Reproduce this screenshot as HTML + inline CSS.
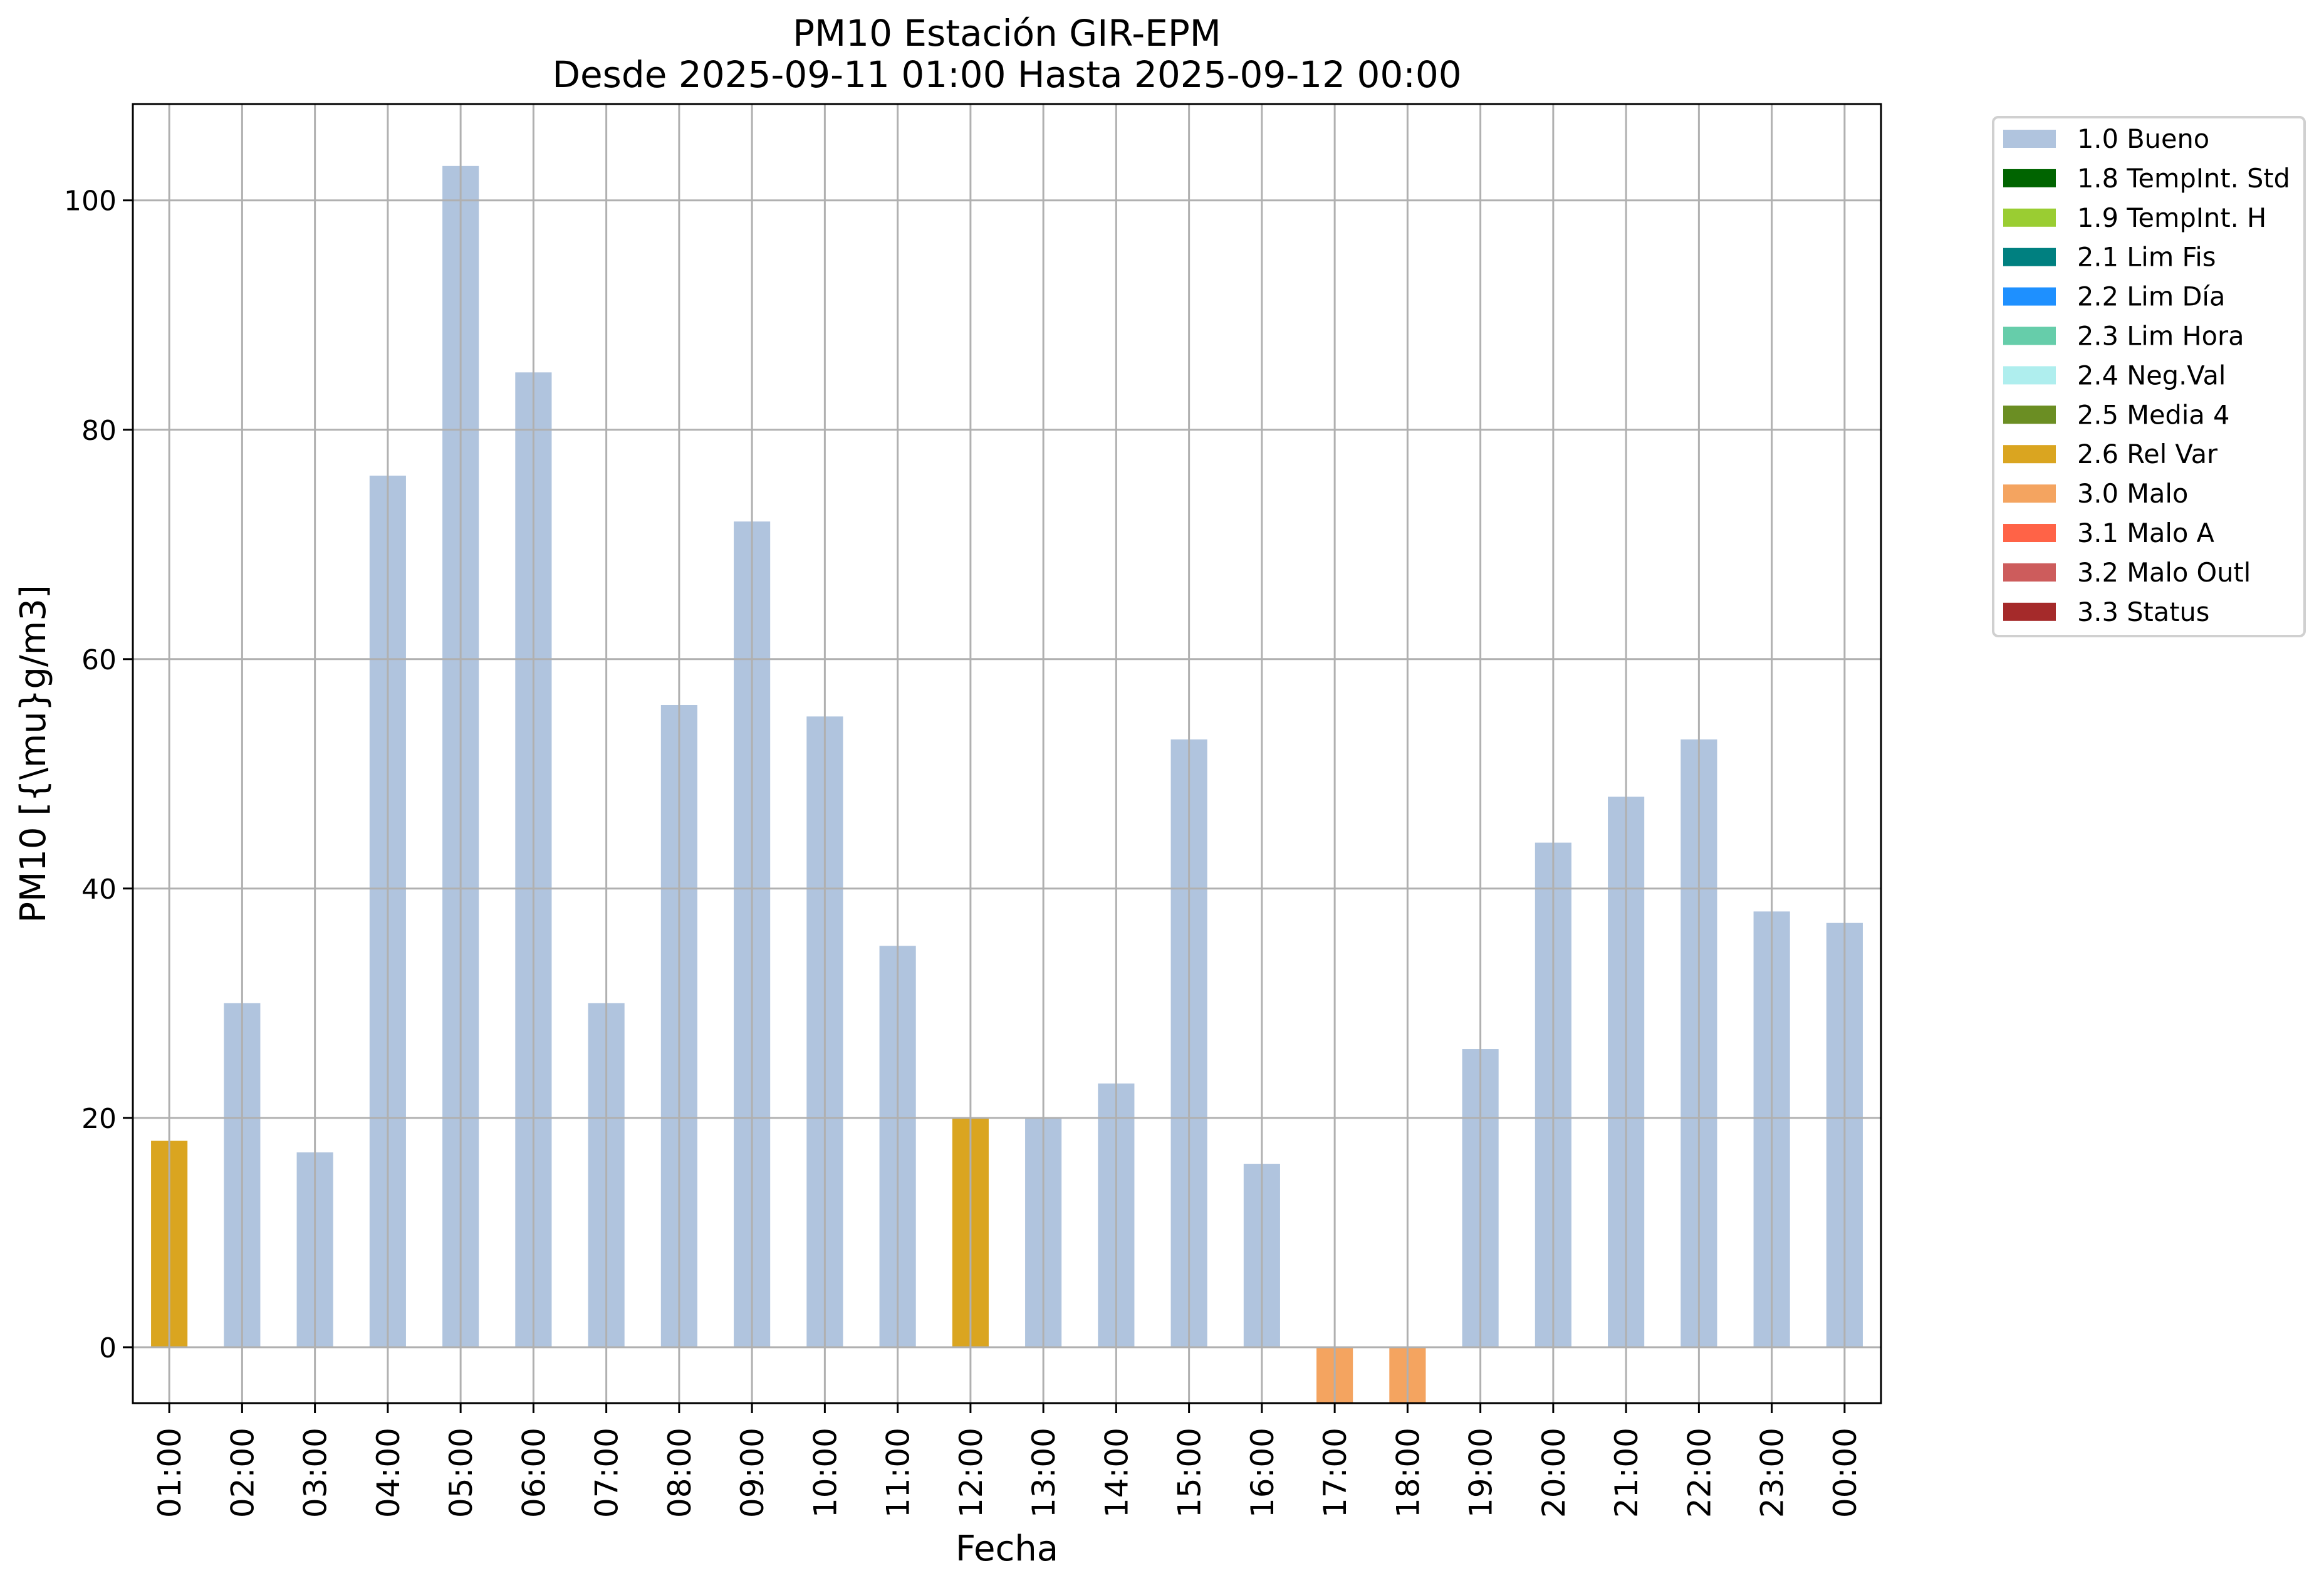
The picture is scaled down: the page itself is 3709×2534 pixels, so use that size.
<!DOCTYPE html>
<html><head><meta charset="utf-8">
<style>
html,body{margin:0;padding:0;background:#fff;}
svg{display:block;font-family:"DejaVu Sans","Liberation Sans",sans-serif;}
</style></head>
<body>
<svg id="chart" width="3709" height="2534" viewBox="0 0 3709 2534" xmlns="http://www.w3.org/2000/svg">
<rect x="0" y="0" width="3709" height="2534" fill="#fff"/>
<text x="1607" y="73" font-size="58" text-anchor="middle">PM10 Estación GIR-EPM</text>
<text x="1607" y="139" font-size="58" text-anchor="middle">Desde 2025-09-11 01:00 Hasta 2025-09-12 00:00</text>
<g id="grid"></g>
<g id="bars"></g>
<g id="axes"></g>
<text x="1607" y="2490" font-size="56" text-anchor="middle">Fecha</text>
<text transform="translate(72,1203) rotate(-90)" font-size="56" text-anchor="middle">PM10 [{\mu}g/m3]</text>
<g id="legend"></g>
</svg>
<script>
const categories = ["01:00","02:00","03:00","04:00","05:00","06:00","07:00","08:00","09:00","10:00","11:00","12:00","13:00","14:00","15:00","16:00","17:00","18:00","19:00","20:00","21:00","22:00","23:00","00:00"];
const values = [18,30,17,76,103,85,30,56,72,55,35,20,20,23,53,16,-5,-5,26,44,48,53,38,37];
const flags = ["2.6","1.0","1.0","1.0","1.0","1.0","1.0","1.0","1.0","1.0","1.0","2.6","1.0","1.0","1.0","1.0","3.0","3.0","1.0","1.0","1.0","1.0","1.0","1.0"];
const yTicks = [0,20,40,60,80,100];
const legendLabels = ["1.0 Bueno","1.8 TempInt. Std","1.9 TempInt. H","2.1 Lim Fis","2.2 Lim Día","2.3 Lim Hora","2.4 Neg.Val","2.5 Media 4","2.6 Rel Var","3.0 Malo","3.1 Malo A","3.2 Malo Outl","3.3 Status"];
const legendCodes = ["1.0","1.8","1.9","2.1","2.2","2.3","2.4","2.5","2.6","3.0","3.1","3.2","3.3"];
const legendColors = ["#b0c4de","#006400","#9acd32","#008080","#1e90ff","#66cdaa","#afeeee","#6b8e23","#daa520","#f4a460","#ff6347","#cd5c5c","#a52a2a"];

const NS="http://www.w3.org/2000/svg";
const L=212,R=3002,T=166,B=2239;
const yMin=-4.87,yMax=108.4;
function ys(v){return B-(v-yMin)/(yMax-yMin)*(B-T);}
const bw=(R-L)/categories.length;
function xs(i){return L+(i+0.5)*bw;}
function mk(tag,attrs,parent){const e=document.createElementNS(NS,tag);for(const k in attrs)e.setAttribute(k,attrs[k]);parent.appendChild(e);return e;}
const grid=document.getElementById('grid'),bars=document.getElementById('bars'),axes=document.getElementById('axes'),legend=document.getElementById('legend');

yTicks.forEach(t=>{
  const tk=mk('line',{x1:L-16,x2:L,y1:ys(t),y2:ys(t),stroke:'#000','stroke-width':3},axes);
  
  
  const tx=mk('text',{x:L-26,y:ys(t)+16,'font-size':44,'text-anchor':'end'},axes);
  tx.textContent=t;
  
  
});
const cmap={};legendCodes.forEach((c,i)=>cmap[c]=legendColors[i]);
const clip=mk('clipPath',{id:'plotclip'},document.getElementById('chart'));
mk('rect',{x:L,y:T,width:R-L,height:B-T},clip);
bars.setAttribute('clip-path','url(#plotclip)');
values.forEach((v,i)=>{
  const y0=ys(0),y1=ys(v);
  const r=mk('rect',{x:xs(i)-bw*0.25,y:Math.min(y0,y1),width:bw*0.5,height:Math.abs(y1-y0),fill:cmap[flags[i]]},bars);
  
  
});
categories.forEach((c,i)=>{
  const x=xs(i);
  const g=mk('line',{x1:x,x2:x,y1:T,y2:B,stroke:'#b0b0b0','stroke-width':3},bars);
  
  
});
yTicks.forEach(t=>{
  const g=mk('line',{x1:L,x2:R,y1:ys(t),y2:ys(t),stroke:'#b0b0b0','stroke-width':3},bars);
  
  
});
categories.forEach((c,i)=>{
  const x=xs(i);
  const tk=mk('line',{x1:x,x2:x,y1:B,y2:B+16,stroke:'#000','stroke-width':3},axes);
  
  
  const tx=mk('text',{transform:`translate(${x+18},2278) rotate(-90)`,'font-size':50,'text-anchor':'end'},axes);
  tx.textContent=c;
  
  
});
const frame=mk('rect',{x:L,y:T,width:R-L,height:B-T,fill:'none',stroke:'#000','stroke-width':3},axes);



const box=mk('rect',{x:3181,y:187,width:497,height:828,rx:8,fill:'#fff',stroke:'#d0d0d0','stroke-width':4},legend);


legendLabels.forEach((lab,i)=>{
  const cy=221+i*62.9;
  const p=mk('rect',{x:3197,y:cy-14,width:84,height:29,fill:legendColors[i]},legend);
  
  
  const t=mk('text',{x:3315,y:cy+15,'font-size':41.5},legend);
  t.textContent=lab;
  
  
});
</script>
</body></html>
